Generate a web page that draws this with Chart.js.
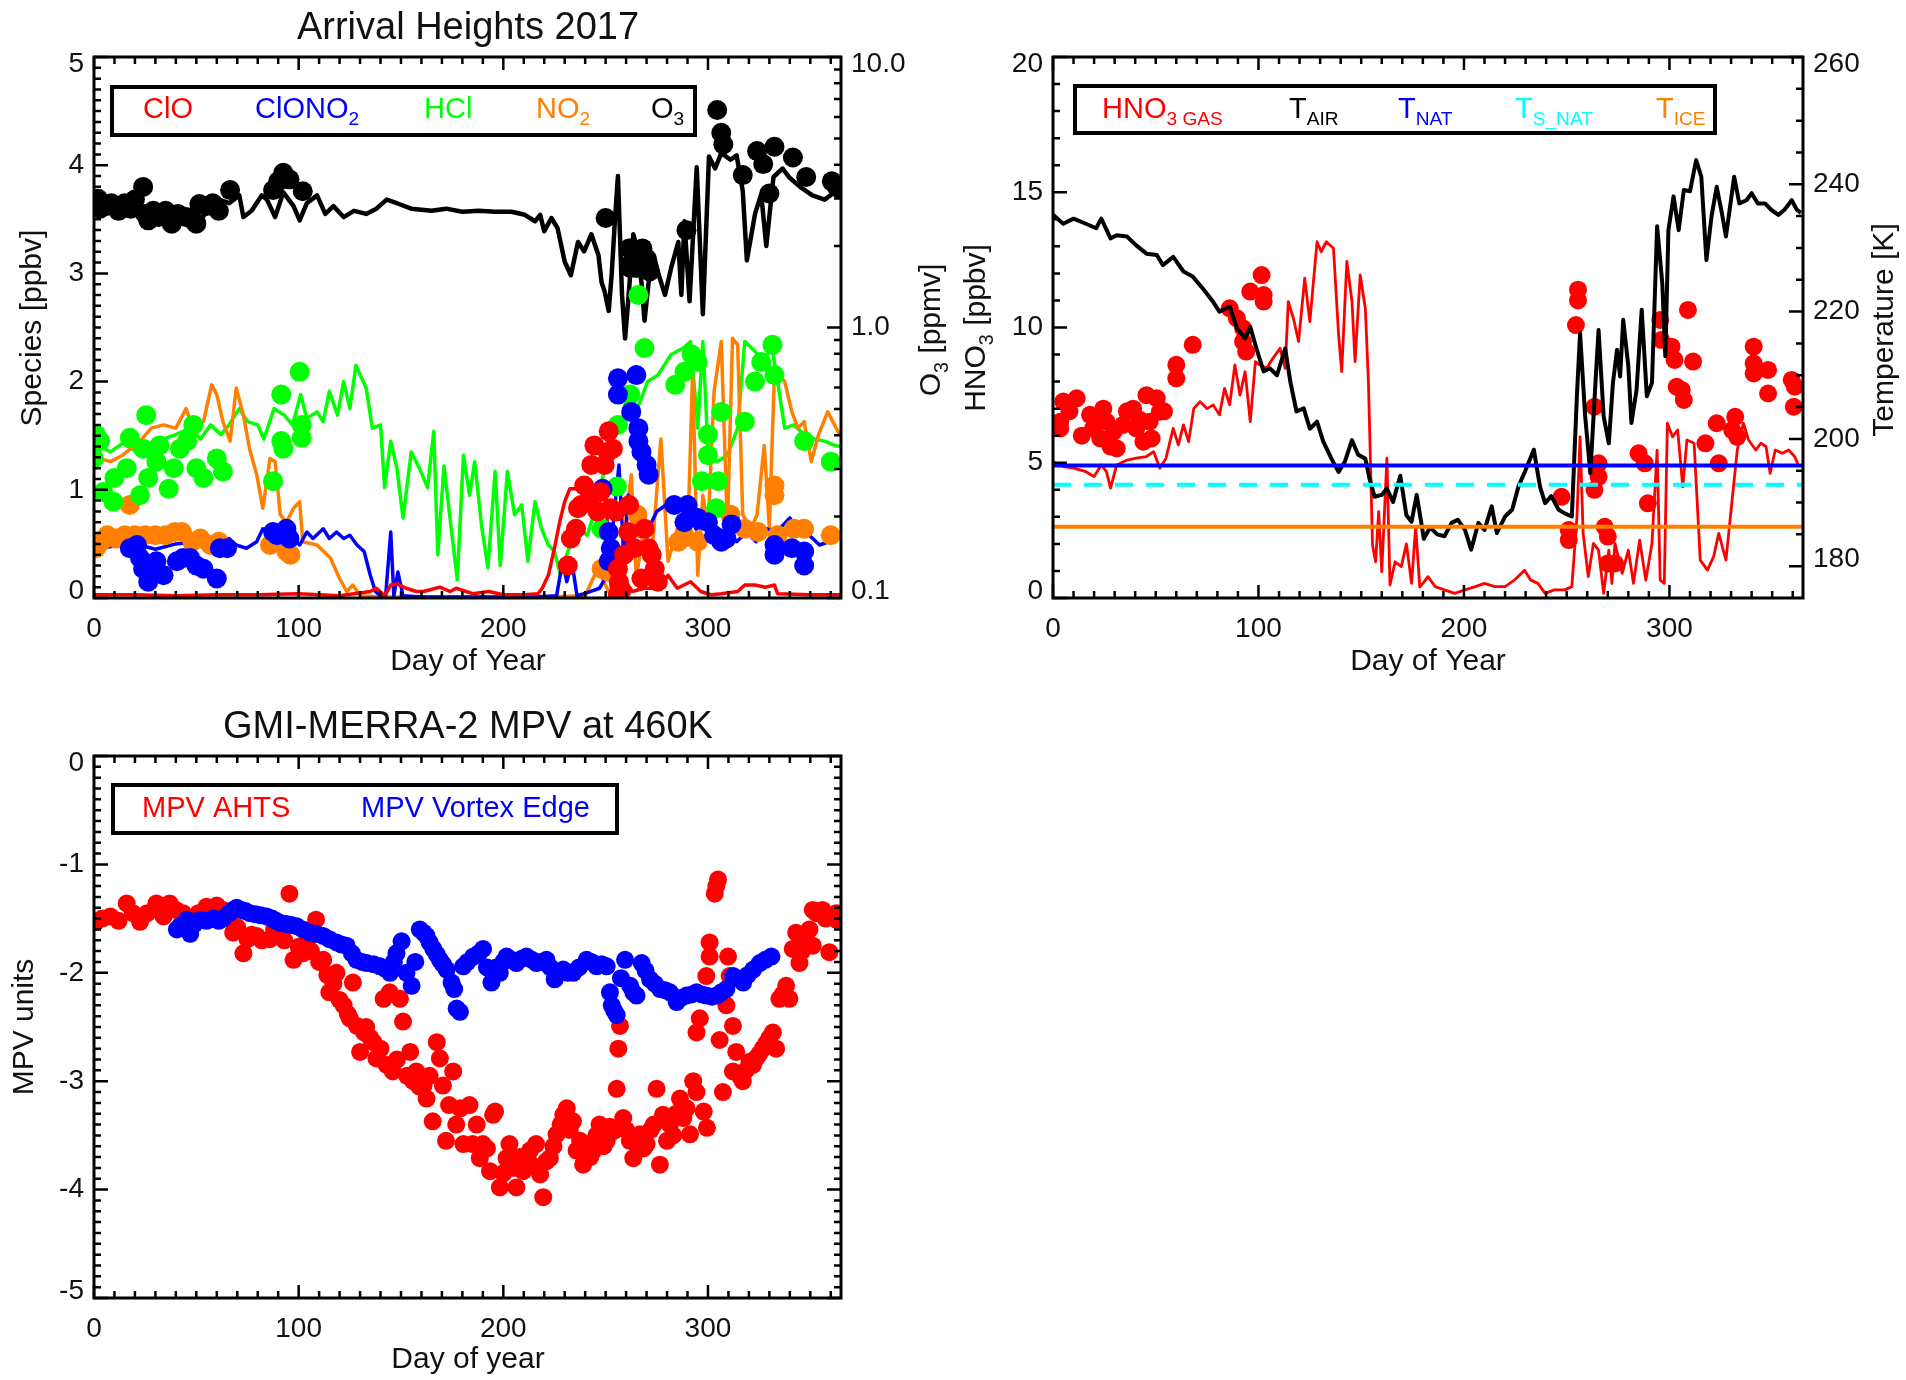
<!DOCTYPE html>
<html>
<head>
<meta charset="utf-8">
<title>Arrival Heights 2017</title>
<script src="https://cdn.jsdelivr.net/npm/chart.js@4.4.1/dist/chart.umd.min.js"></script>
<style>
  body { margin: 0; background: #fff; }
  #page { position: relative; width: 1906px; height: 1380px; }
  canvas { position: absolute; }
</style>
</head>
<body>
<div id="page">
  <canvas id="species" width="950" height="700" style="left:0;top:0"></canvas>
  <canvas id="hno3" width="956" height="700" style="left:950px;top:0"></canvas>
  <canvas id="mpv" width="950" height="690" style="left:0;top:690px"></canvas>
</div>
<script>
// tick labels
const dayTicks = [0, 100, 200, 300];
const speciesTicks = [0, 1, 2, 3, 4, 5];
const o3Ticks = [0.1, 1, 10];
const hno3Ticks = [0, 5, 10, 15, 20];
const tempTicks = [180, 200, 220, 240, 260];
const mpvTicks = [-5, -4, -3, -2, -1, 0];

// [day, ppbv] / [day, ppmv] / [day, K] / [day, MPV units]
const hclLine = [[0,1.45],[2.5,1.41],[8,1.35],[14,1.43],[21,1.35],[27,1.38],[34,1.47],[40,1.51],[47,1.57],[52,1.47],[57,1.60],[62,1.51],[66,1.60],[71,1.75],[75,1.63],[80,1.60],[83,1.47],[88,1.75],[93,1.69],[97,1.60],[101,1.88],[104,1.66],[109,1.72],[112,1.63],[115,1.91],[119,1.69],[122,2.0],[125,1.75],[128,2.15],[133,1.94],[136,1.57],[140,1.60],[142,1.02],[145,1.45],[148,1.20],[151,0.74],[155,1.35],[159,1.20],[163,1.02],[166,1.54],[168,0.40],[171,1.22],[174.5,0.65],[177.5,0.17],[180.5,1.32],[183.5,0.95],[186,1.26],[189.5,0.65],[192.5,0.28],[196,1.17],[198.5,0.30],[202,1.17],[205.5,0.77],[209,0.86],[212,0.34],[215.5,0.89],[218.5,0.65],[222,0.49],[225,0.43],[228,0.21],[231,0.40],[236,0.65],[241,0.58],[246,0.89],[251,1.32],[254,1.60],[257.5,1.60],[260.5,1.88],[265.5,1.75],[270.5,2.0],[275.5,2.06],[282,2.25],[288,2.31],[291.5,2.37],[295,1.57],[297.5,2.37],[300,1.38],[304.5,1.26],[309.5,1.32],[314.5,1.57],[318,2.37],[323,2.28],[327.5,2.18],[331,2.34],[334,2.0],[337.5,1.57],[342,1.60],[347,1.51],[352,1.47],[357,1.45],[362,1.41],[365,1.40]];
const no2Line = [[0,1.38],[2.5,1.29],[8,1.26],[14,1.32],[22.5,1.45],[28,1.57],[34,1.60],[40,1.57],[45,1.75],[48.5,1.57],[53.5,1.63],[57.5,1.97],[60,1.88],[63,1.63],[66.5,1.45],[69.5,1.94],[73,1.69],[76,1.38],[79.5,1.14],[82.5,0.83],[86,1.29],[88.5,1.26],[91,0.77],[94,0.70],[97.5,0.83],[100.5,0.89],[102,0.52],[109,0.49],[115.5,0.37],[120,0.18],[123.5,0.06],[126.5,0.12],[130,0.02],[140,0.01],[160,0.01],[180,0.01],[200,0.01],[220,0.01],[240,0.02],[246,0.27],[252.5,0.02],[257.5,0.34],[262.5,1.14],[265,0.18],[269,0.70],[272,0.27],[277,1.47],[280.5,0.34],[285,0.64],[290,0.49],[292.5,2.09],[295,0.21],[297.5,0.95],[300,0.64],[303,1.91],[306.5,2.37],[309.5,0.64],[312,2.40],[314.5,2.34],[317,0.77],[321,0.64],[324,0.77],[327.5,1.41],[330,0.64],[332.5,2.09],[337.5,2.0],[341,1.72],[344,1.57],[347,1.63],[350.5,1.26],[354,1.51],[358.5,1.72],[363.5,1.54],[365,1.50]];
const clono2Line = [[0,0.45],[10,0.48],[20,0.50],[30,0.45],[40,0.50],[50,0.52],[57,0.55],[62,0.52],[66,0.55],[69.5,0.49],[74.5,0.46],[79.5,0.52],[82.5,0.64],[86,0.61],[89,0.55],[92.5,0.64],[97.5,0.55],[100.5,0.49],[104,0.61],[107,0.55],[112,0.64],[115,0.55],[118.5,0.61],[122,0.55],[125,0.58],[128.5,0.49],[132,0.43],[135,0.21],[137.5,0.06],[140,0.02],[142.5,0.02],[145,0.61],[146.5,0.02],[148.5,0.24],[151,0.02],[160,0.01],[180,0.01],[200,0.01],[215,0.01],[226,0.02],[229,0.34],[231,0.15],[233.5,0.34],[236,0.02],[241,0.05],[247,0.09],[251.5,0.24],[255,0.95],[256.5,1.23],[259,0.34],[261,0.95],[265,0.64],[270,0.61],[275,0.80],[279.5,0.86],[284.5,0.83],[289,0.89],[294,0.64],[299,0.67],[304,0.58],[309,0.64],[314,0.52],[319,0.61],[323.5,0.52],[328.5,0.64],[333.5,0.61],[340,0.74],[344.5,0.61],[349.5,0.58],[354.5,0.49],[359,0.52],[364,0.55]];
const cloLine = [[0,0.03],[20,0.03],[40,0.02],[60,0.03],[80,0.03],[100,0.04],[120,0.02],[135,0.06],[138,0.09],[142,0.02],[145,0.12],[148,0.13],[152.5,0.09],[157.5,0.06],[161,0.06],[169,0.10],[174,0.06],[177,0.09],[185,0.04],[193,0.06],[200,0.03],[210,0.03],[217,0.04],[219,0.09],[222,0.21],[225,0.46],[227.5,0.70],[230,0.89],[232.5,1.01],[236.5,1.01],[240,1.04],[243,1.01],[246.5,0.98],[250,0.95],[253,0.02],[256.5,0.06],[260,0.15],[263,0.06],[269,0.09],[276,0.09],[280.5,0.21],[285,0.09],[291.5,0.15],[296.5,0.06],[301.5,0.03],[306.5,0.04],[314.5,0.06],[318,0.12],[323,0.12],[328,0.10],[332.5,0.12],[334,0.04],[350,0.03],[365,0.03]];
const o3Line = [[0,2.97],[4,2.75],[8,2.81],[14,2.70],[19,2.81],[24,2.63],[30.5,2.56],[37.5,2.63],[46,2.56],[52.5,2.49],[56,2.81],[61,2.97],[66,2.88],[71,3.08],[73,2.56],[77,2.70],[82,3.08],[84.5,2.97],[88.5,2.56],[92.5,3.16],[97.5,2.81],[100.5,2.49],[104,2.88],[109,3.08],[113,2.63],[117,2.81],[122,2.56],[127,2.70],[133,2.63],[138,2.75],[143,2.97],[148,2.88],[155,2.75],[165,2.70],[172,2.75],[180,2.68],[188,2.70],[196,2.68],[204,2.68],[210.5,2.61],[215.5,2.47],[218,2.61],[220,2.27],[223.5,2.54],[226.5,2.33],[230,1.75],[233,1.56],[236.5,2.07],[239.5,1.91],[243,2.21],[246.5,1.85],[248,1.47],[249.5,1.36],[251.5,1.15],[253,1.59],[254.5,2.47],[256,3.63],[258,1.32],[259.5,0.91],[261,1.25],[263.5,2.21],[265,2.01],[267.5,1.47],[269,1.06],[271,1.47],[273.5,1.85],[276,1.56],[279,1.32],[282,1.66],[285.5,2.07],[287,1.32],[288.5,2.47],[291,1.25],[294.5,3.91],[297.5,1.12],[300.5,4.29],[303.5,3.87],[306.5,4.41],[311,4.17],[314,4.33],[317,3.19],[319,1.77],[323,2.63],[326,3.11],[328.5,2.00],[332,3.60],[336.5,3.87],[339.5,3.60],[345,3.31],[351,3.08],[357,2.97],[361,3.13],[365,3.02]];

const o3Dots = [[2,2.99],[3,2.75],[6,2.81],[8.5,2.88],[12,2.70],[15,2.88],[18,2.75],[20,2.97],[24,3.31],[25,2.63],[26.5,2.49],[29,2.70],[31.5,2.56],[35,2.70],[38,2.42],[41,2.63],[45,2.56],[48,2.51],[50,2.42],[51.5,2.86],[55,2.81],[58,2.88],[61,2.70],[66.5,3.22],[87.5,3.22],[90,3.47],[92.5,3.73],[95.5,3.53],[102,3.19],[250,2.54],[261.5,1.96],[262,1.66],[263,1.75],[265,1.66],[268,1.96],[270,1.80],[271.5,1.61],[289.5,2.29],[304.5,6.37],[306.5,5.25],[307.5,4.75],[317,3.66],[324,4.49],[327,4.02],[330,3.13],[332.5,4.66],[341.5,4.25],[348,3.60],[360.5,3.47],[363,3.31]];
const hclDots = [[0,1.29],[1,1.51],[3,1.45],[4.5,0.98],[9.5,0.89],[10,1.11],[16,1.20],[17.5,1.48],[22.5,0.95],[24,1.38],[25.5,1.69],[26.5,1.11],[30.5,1.26],[32,1.41],[36.5,1.01],[39,1.20],[42,1.38],[45.5,1.45],[48.5,1.60],[50,1.20],[53.5,1.11],[60,1.29],[63,1.17],[87.5,1.08],[91.5,1.88],[91.5,1.45],[92.5,1.38],[100.5,2.09],[101.5,1.60],[101.5,1.48],[248,0.64],[255.5,1.03],[256,1.60],[262,1.88],[266,2.80],[269,2.31],[284,1.97],[288.5,2.09],[292,2.25],[295,2.18],[297,1.08],[300,1.51],[300,1.32],[304,0.83],[305,1.08],[306.5,1.72],[318,1.63],[323,2.0],[326,2.18],[331.5,2.34],[332.5,2.06],[347,1.45],[360,1.26]];
const no2Dots = [[1,0.46],[3.5,0.52],[6.5,0.58],[10.5,0.55],[15,0.58],[17.5,0.86],[20,0.58],[25,0.58],[30,0.58],[35,0.58],[39.5,0.61],[43,0.61],[48,0.52],[52,0.55],[57,0.49],[61,0.52],[86,0.49],[94,0.43],[96,0.40],[248,0.27],[251.5,0.24],[265.5,0.77],[267.5,0.64],[285.5,0.52],[288.5,0.58],[295,0.52],[311,0.77],[318,0.64],[324.5,0.61],[332.5,1.04],[332.5,0.95],[334,0.58],[342,0.64],[347,0.64],[360,0.58]];
const clono2Dots = [[17.5,0.46],[21,0.49],[22.5,0.37],[24,0.27],[26.5,0.15],[29,0.24],[30.5,0.34],[34,0.21],[40.5,0.34],[43.5,0.37],[47,0.37],[50,0.30],[53.5,0.27],[60,0.18],[61.5,0.46],[65,0.46],[87.5,0.61],[89.5,0.58],[94,0.64],[95.5,0.55],[248.5,1.01],[251.5,0.61],[252.5,0.46],[251.5,0.34],[256,2.03],[256,1.88],[262.5,1.72],[265,2.06],[266,1.57],[266,1.45],[267.5,1.35],[270,1.23],[271,1.14],[283.5,0.86],[288.5,0.70],[290,0.86],[295,0.74],[300,0.70],[303,0.58],[306.5,0.52],[309,0.55],[311.5,0.68],[332.5,0.49],[332.5,0.40],[341,0.46],[347,0.30],[347,0.43]];
const cloDots = [[231.5,0.30],[233,0.55],[235.5,0.64],[236.5,0.83],[238,0.86],[239.5,1.04],[243,0.95],[243,1.23],[244.5,1.41],[246,0.80],[247.5,0.98],[249.5,1.23],[251,1.35],[251.5,1.54],[252.5,0.83],[253.5,1.38],[255,0.80],[256,0.27],[256.5,0.15],[257.5,0.06],[259,0.40],[261,0.61],[261.5,0.86],[264,0.46],[267.5,0.18],[269,0.64],[271,0.46],[272.5,0.40],[274,0.27],[275.5,0.15],[256,0.03]];

const tAir = [[0,235.2],[5,233.8],[10,234.6],[16,233.8],[21,233.1],[23.5,234.6],[28,231.5],[31,232.0],[36,231.8],[40.5,230.4],[45.5,229.1],[50.5,228.9],[53.5,227.3],[58.5,228.6],[63.5,226.3],[68,225.5],[73,223.6],[78,221.5],[81,220.0],[86,220.8],[89.5,217.4],[93.5,215.8],[96,217.6],[99,214.2],[102.5,210.6],[105.5,211.1],[109,210.0],[113,214.2],[115.5,209.0],[118.5,204.3],[122,204.8],[125,201.6],[128.5,202.7],[131.5,199.6],[135.5,196.9],[139,194.8],[142,196.4],[145.5,199.8],[148.5,197.5],[152,196.9],[154,193.8],[156.5,190.9],[160,191.2],[162.5,192.2],[165.5,190.1],[169,194.2],[172,188.0],[174.5,187.0],[177,191.2],[180.5,184.3],[183.5,186.1],[187,185.0],[190.5,184.7],[194,186.8],[197,187.3],[200.5,185.7],[203.5,182.6],[207,186.8],[210,185.7],[213.5,189.4],[216,185.2],[220,187.8],[223.5,188.9],[226.5,192.5],[230,195.1],[234,198.3],[237,192.5],[239.5,189.9],[242.5,191.0],[246,188.9],[249,188.3],[252.5,187.8],[255,207.0],[256.5,216.6],[259,203.5],[261.5,194.6],[264,208.8],[265.5,217.1],[268,203.5],[270.5,199.3],[272.5,208.8],[274.5,214.0],[276,209.8],[277.5,218.7],[280,211.4],[281.5,202.5],[284,207.7],[286.5,220.3],[289,206.7],[291.5,208.8],[294,233.4],[296.5,224.5],[298,213.0],[299.5,232.8],[302,238.1],[304.5,232.8],[307,239.1],[310,238.9],[313,243.8],[315.5,241.2],[318,228.1],[320.5,235.0],[323,239.6],[325.5,235.5],[327.5,231.8],[331.5,241.2],[334,237.0],[337.5,237.5],[340,238.6],[343,237.0],[346.5,237.0],[349.5,236.0],[353,235.2],[356,236.0],[359.5,237.5],[362,236.0],[364,235.5]];
const hno3Line = [[0,5.04],[5,4.86],[10,4.80],[16,4.67],[20,4.49],[23.5,4.92],[26,4.67],[28,4.06],[31,4.92],[36,5.10],[40.5,5.17],[45.5,5.23],[49,5.41],[52,4.80],[55,5.17],[58.5,6.27],[61,5.66],[63.5,6.40],[66,5.78],[68.5,7.0],[71.5,7.26],[75,7.0],[78,7.14],[81,6.77],[83.5,7.75],[86,7.14],[88.5,8.62],[91,7.50],[93.5,8.37],[96,6.52],[98.5,8.74],[100.5,8.62],[104,8.49],[107,8.86],[110.5,9.23],[113,8.49],[114.5,10.96],[117,10.34],[119.5,9.48],[122.5,11.82],[125,10.22],[128.5,13.17],[130.5,12.80],[133,13.17],[136.5,12.93],[139,9.72],[140.5,8.37],[143,12.44],[145.5,10.96],[147,8.74],[149.5,11.94],[152,10.71],[153.5,8.0],[154.5,5.04],[155.5,1.96],[157,1.34],[158.5,3.19],[160,0.97],[162.5,5.17],[164,0.48],[166.5,1.34],[169.5,1.16],[172,2.0],[174.5,0.54],[176.5,2.63],[178.5,0.40],[180,0.54],[182.5,0.79],[186,0.42],[190.5,0.30],[195.5,0.17],[200.5,0.30],[205.5,0.42],[210,0.54],[215,0.42],[220,0.42],[224.5,0.66],[229.5,1.03],[232.5,0.66],[236,0.54],[239.5,0.17],[244,0.30],[249,0.30],[252.5,0.42],[255,3.0],[256.5,5.96],[258,2.39],[260.5,0.79],[263,2.02],[265.5,1.77],[268,0.17],[270.5,1.77],[272,0.54],[273.5,2.02],[277,0.91],[280,1.77],[282.5,0.54],[285.5,2.14],[288.5,0.66],[291.5,2.02],[294,5.47],[295.5,0.66],[297.5,0.54],[299,6.46],[301.5,5.96],[304,6.21],[306.5,4.11],[308.5,5.84],[312,5.72],[315,1.40],[318.5,1.03],[321.5,1.53],[324,2.39],[327.5,1.40],[330.5,3.62],[333,5.47],[336,6.46],[338.5,5.84],[342,5.47],[344.5,5.72],[347,5.60],[349,4.61],[351.5,5.47],[355,5.35],[358,5.47],[361,5.22],[363,4.85]];
const hno3Dots = [[3.5,6.52],[3.5,6.27],[5,7.26],[8,6.9],[11.5,7.38],[14,6.0],[18,6.77],[19.5,6.27],[21,6.6],[23,5.90],[24.5,7.0],[26,6.52],[28,5.6],[29.5,6.15],[31,5.53],[34,6.40],[36,6.9],[39,7.0],[40.5,6.27],[42,6.6],[44,5.78],[45.5,7.50],[47,6.52],[48,5.9],[50.5,7.38],[52,6.89],[54,6.9],[60,8.62],[60,8.12],[68,9.36],[86,10.71],[89.5,10.34],[92.5,9.97],[92.5,9.48],[94,9.11],[96,11.33],[101.5,11.94],[102.5,11.20],[102.5,10.96],[247.5,3.74],[251,2.51],[251,2.14],[254.5,10.09],[255.5,11.0],[255.5,11.4],[263.5,4.0],[263.5,7.07],[265.5,4.98],[265.5,4.48],[268.5,2.63],[270,2.27],[270,1.28],[273.5,1.28],[285,5.35],[288,4.98],[289.5,3.50],[295.5,10.28],[296,9.54],[301,9.29],[302.5,8.80],[303.5,7.81],[306,7.69],[307,7.32],[309,10.65],[311.5,8.74],[317.5,5.72],[323,6.46],[324,4.98],[330.5,6.21],[332,6.70],[333,5.96],[341,9.29],[341,8.67],[341,8.30],[348,8.43],[348,7.56],[359.5,8.06],[360.5,7.07],[361,7.81]];
// T_NAT, T_S_NAT, T_ICE [K]
const thresholdTemps = [195.8, 192.8, 186.2];

const mpvAhts = [[1,-1.53],[4,-1.50],[8,-1.48],[12,-1.52],[16,-1.36],[19,-1.45],[22.5,-1.53],[26,-1.45],[30.5,-1.36],[34,-1.48],[37,-1.36],[40,-1.42],[43.5,-1.45],[47,-1.50],[51,-1.45],[55,-1.39],[58,-1.40],[60,-1.38],[63,-1.42],[66,-1.50],[68,-1.63],[70,-1.58],[73,-1.82],[75,-1.69],[77,-1.65],[79.5,-1.66],[82,-1.70],[86,-1.69],[88,-1.60],[91,-1.62],[93,-1.70],[95.5,-1.27],[97.5,-1.88],[100,-1.76],[102,-1.82],[104,-1.72],[106,-1.80],[108.5,-1.51],[110,-1.90],[112,-1.88],[114,-2.02],[115,-2.18],[117,-2.10],[118.5,-2.0],[120,-2.25],[122,-2.30],[124,-2.38],[125,-2.42],[126.5,-2.09],[128.5,-2.49],[130,-2.73],[132,-2.55],[133,-2.50],[135,-2.60],[136.5,-2.64],[138,-2.79],[140,-2.70],[141.5,-2.24],[143,-2.85],[144.5,-2.18],[146,-2.91],[148,-2.80],[149.5,-2.24],[151,-2.45],[153,-2.95],[154.5,-2.73],[156,-3.00],[157.5,-2.91],[159,-3.05],[161,-3.04],[162.5,-3.16],[164,-2.95],[165.5,-3.37],[167.5,-2.64],[169,-2.79],[170.5,-3.04],[172,-3.55],[173.5,-3.22],[175.5,-2.91],[177,-3.40],[179,-3.25],[180.5,-3.58],[183.5,-3.22],[185,-3.58],[187,-3.40],[188.5,-3.71],[190,-3.58],[192,-3.62],[193.5,-3.83],[195,-3.31],[196,-3.28],[198.3,-3.98],[200,-3.85],[201.6,-3.71],[203,-3.58],[205,-3.80],[206.4,-3.98],[208,-3.70],[209.7,-3.83],[211,-3.75],[213,-3.64],[214.5,-3.78],[216,-3.58],[218,-3.86],[219.5,-4.07],[221,-3.74],[222.7,-3.71],[224.5,-3.60],[226,-3.49],[228,-3.40],[229.3,-3.31],[231,-3.25],[232.5,-3.45],[234,-3.37],[235.8,-3.64],[237.5,-3.55],[239,-3.77],[240.7,-3.58],[242.5,-3.70],[244,-3.64],[245.5,-3.50],[247,-3.40],[249,-3.60],[250.5,-3.55],[252,-3.42],[253.8,-3.46],[255.4,-3.07],[256.2,-2.70],[257,-2.49],[258.6,-3.34],[260,-3.45],[261.8,-3.55],[263.5,-3.71],[265,-3.58],[266.7,-3.49],[268.5,-3.62],[270,-3.58],[272,-3.45],[273.5,-3.40],[274.9,-3.07],[276.5,-3.77],[278,-3.31],[280,-3.55],[281.4,-3.40],[283,-3.50],[284.5,-3.30],[286.3,-3.16],[288,-3.34],[289.5,-3.25],[291.2,-3.49],[292.8,-3.0],[294.4,-3.1],[294.4,-2.55],[296,-2.42],[297.9,-3.28],[299.5,-3.43],[299.2,-2.03],[300.8,-1.85],[300.8,-1.72],[303.3,-1.27],[304.1,-1.20],[304.9,-1.14],[305.7,-2.62],[307.3,-3.10],[309,-2.30],[309.8,-1.85],[310.6,-2.03],[312.2,-2.49],[312.2,-2.91],[313.8,-2.73],[315.5,-2.95],[317,-3.0],[318.5,-2.90],[320.3,-2.82],[322,-2.85],[323.5,-2.79],[325,-2.75],[326.8,-2.70],[328.5,-2.65],[330,-2.60],[331.7,-2.55],[333.3,-2.70],[334.9,-2.24],[336.5,-2.20],[338.2,-2.12],[339.8,-2.24],[341.4,-1.78],[343.1,-1.63],[344.7,-1.91],[346,-1.80],[347.5,-1.70],[349.6,-1.60],[351.2,-1.42],[351.2,-1.75],[353,-1.45],[354.5,-1.43],[356,-1.42],[357.5,-1.50],[359.3,-1.81],[361,-1.48],[362.6,-1.45],[362.6,-1.51],[364.5,-1.50]];
const mpvEdge = [[40.5,-1.60],[42,-1.57],[44,-1.55],[45.5,-1.51],[47,-1.64],[49,-1.55],[52,-1.51],[55,-1.52],[58.3,-1.50],[61,-1.52],[63,-1.50],[66,-1.45],[68,-1.42],[69.7,-1.40],[72,-1.42],[74,-1.43],[76.2,-1.45],[79,-1.46],[81.5,-1.47],[84.3,-1.48],[87,-1.50],[89,-1.52],[91,-1.54],[94,-1.55],[96.5,-1.56],[99,-1.57],[102,-1.60],[105.5,-1.63],[108.5,-1.64],[112,-1.66],[115,-1.69],[118.5,-1.72],[121,-1.74],[123.4,-1.75],[126,-1.82],[128.3,-1.88],[131,-1.90],[133.2,-1.91],[136.5,-1.92],[139.7,-1.94],[142,-1.96],[144.6,-2.0],[146.5,-1.90],[147.8,-1.82],[150.3,-1.71],[152.7,-2.0],[155.2,-2.12],[157,-1.90],[159.2,-1.60],[161,-1.63],[162.5,-1.66],[164,-1.72],[165.8,-1.78],[167.5,-1.83],[169,-1.88],[170.5,-1.92],[172.3,-1.97],[174.7,-2.09],[176,-2.15],[177.2,-2.33],[178.8,-2.36],[180.4,-1.94],[182.5,-1.90],[185.3,-1.85],[188,-1.82],[190.1,-1.78],[192,-1.95],[194.2,-2.09],[196.5,-1.95],[198.3,-2.0],[200,-1.90],[201.6,-1.85],[204,-1.88],[206.4,-1.91],[209,-1.87],[211.3,-1.85],[214,-1.88],[216.2,-1.91],[218.5,-1.90],[221.1,-1.88],[223,-1.95],[225.1,-2.06],[227,-2.0],[229.3,-1.97],[231.5,-2.0],[234.2,-2.0],[237,-1.95],[240.7,-1.88],[243,-1.90],[245.6,-1.94],[248,-1.92],[250.5,-1.94],[252.1,-2.18],[253,-2.30],[254.2,-2.35],[255.4,-2.39],[257.5,-2.05],[259.5,-1.88],[262,-2.12],[263.5,-2.18],[265.1,-2.21],[267.6,-1.91],[269.5,-1.98],[271.7,-2.06],[274,-2.10],[276.6,-2.15],[279,-2.16],[281.4,-2.18],[284.7,-2.27],[287,-2.23],[289.5,-2.21],[292,-2.20],[294.4,-2.18],[297,-2.20],[299.3,-2.21],[302,-2.22],[304.2,-2.21],[306.5,-2.18],[309,-2.15],[312.3,-2.03],[314.5,-2.05],[317.2,-2.09],[319.5,-2.02],[322.1,-1.97],[325.3,-1.91],[328,-1.88],[331,-1.85]];

const RED = '#ff0000', BLUE = '#0000ff', GREEN = '#00ff00', ORANGE = '#ff8000', CYAN = '#00ffff', BLACK = '#000000';
const FAMILY = "'Liberation Sans', Arial, Helvetica, sans-serif";
const fontStr = s => s + 'px ' + FAMILY;
const pts = arr => arr.map(([x, y]) => ({ x, y }));

function line(data, color, width, axis, dash) {
  return { data: pts(data), yAxisID: axis, showLine: true, borderColor: color, borderWidth: width,
    borderDash: dash || [], pointRadius: 0, borderJoinStyle: 'round', tension: 0 };
}
function dots(data, color, axis, r) {
  return { data: pts(data), yAxisID: axis, showLine: false, pointRadius: r,
    pointBackgroundColor: color, pointBorderColor: color, pointBorderWidth: 0 };
}

function ticksEvery(min, max, step, isMajor) {
  const out = [];
  const n = Math.round((max - min) / step);
  for (let i = 0; i <= n; i++) {
    const v = Math.round((min + i * step) * 1000) / 1000;
    out.push([v, isMajor(v)]);
  }
  return out;
}
const isInt = v => Math.abs(v - Math.round(v)) < 1e-6;
const logTicks = [];
[0.1, 1].forEach(d => { for (let m = 1; m <= 9; m++) logTicks.push([Math.round(m * d * 100) / 100, m === 1]); });
logTicks.push([10, true]);

function yAxis(min, max, ticks, position, fmt, type) {
  return {
    type: type || 'linear', position, min, max,
    grid: { display: false, drawTicks: false, tickLength: 0 },
    border: { display: false },
    afterBuildTicks: s => { s.ticks = ticks.map(v => ({ value: v })); },
    afterFit: s => { s.width = position === 'left' ? 70 : 90; },
    ticks: {
      autoSkip: false, padding: 10, color: '#111',
      font: { family: FAMILY, size: 28, lineHeight: 0.5 },
      callback: (v, i, t) => {
        const s = fmt(v);
        if (i === t.length - 1) return ['', s];
        if (i === 0) return [s, ''];
        return s;
      }
    }
  };
}
function xAxis() {
  return {
    type: 'linear', position: 'bottom', min: 0, max: 365,
    grid: { display: false, drawTicks: false, tickLength: 0 },
    border: { display: false },
    afterBuildTicks: s => { s.ticks = dayTicks.map(v => ({ value: v })); },
    afterFit: s => { s.height = 60; },
    ticks: { autoSkip: false, maxRotation: 0, padding: 14, color: '#111',
      font: { family: FAMILY, size: 28, lineHeight: 1.2 }, callback: v => String(v) }
  };
}

function drawRich(ctx, parts, x, y, size, color, center) {
  ctx.textBaseline = 'alphabetic';
  ctx.textAlign = 'left';
  ctx.fillStyle = color;
  let w = 0;
  parts.forEach(([t, sub]) => { ctx.font = fontStr(sub ? size * 0.66 : size); w += ctx.measureText(t).width; });
  let cx = center ? x - w / 2 : x;
  parts.forEach(([t, sub]) => {
    ctx.font = fontStr(sub ? size * 0.66 : size);
    ctx.fillText(t, cx, sub ? y + size * 0.25 : y);
    cx += ctx.measureText(t).width;
  });
}
function drawRotated(ctx, parts, x, y, size) {
  ctx.save();
  ctx.translate(x, y);
  ctx.rotate(-Math.PI / 2);
  drawRich(ctx, parts, 0, 0, size, '#111', true);
  ctx.restore();
}

function idlFrame(spec) {
  return {
    id: 'idlFrame',
    afterDraw(chart) {
      const { ctx, chartArea: a } = chart;
      const xs = chart.scales.x;
      const yl = chart.scales[spec.left];
      const yr = chart.scales[spec.right];
      ctx.save();
      ctx.strokeStyle = BLACK;
      ctx.lineWidth = 2.5;
      ctx.beginPath();
      spec.xMinor.forEach(([v, major]) => {
        const px = xs.getPixelForValue(v), len = major ? 13 : 7;
        ctx.moveTo(px, a.bottom); ctx.lineTo(px, a.bottom - len);
        ctx.moveTo(px, a.top); ctx.lineTo(px, a.top + len);
      });
      spec.leftMinor.forEach(([v, major]) => {
        const py = yl.getPixelForValue(v), len = major ? 14 : 7;
        ctx.moveTo(a.left, py); ctx.lineTo(a.left + len, py);
      });
      spec.rightMinor.forEach(([v, major]) => {
        const py = yr.getPixelForValue(v), len = major ? 14 : 7;
        ctx.moveTo(a.right, py); ctx.lineTo(a.right - len, py);
      });
      ctx.stroke();
      ctx.lineWidth = 3;
      ctx.strokeRect(a.left, a.top, a.right - a.left, a.bottom - a.top);

      const lg = spec.legend;
      ctx.fillStyle = '#fff';
      ctx.fillRect(lg.box[0], lg.box[1], lg.box[2], lg.box[3]);
      ctx.lineWidth = 4;
      ctx.strokeRect(lg.box[0], lg.box[1], lg.box[2], lg.box[3]);
      lg.items.forEach(it => drawRich(ctx, it.parts, it.x, lg.y, 29, it.color, false));

      if (spec.title) drawRich(ctx, [[spec.title.text]], spec.title.x, spec.title.y, 38, '#111', true);
      drawRich(ctx, [[spec.xTitle.text]], spec.xTitle.x, spec.xTitle.y, 30, '#111', true);
      spec.yTitles.forEach(t => drawRotated(ctx, t.parts, t.x, t.y, 30));
      ctx.restore();
    }
  };
}

function baseOptions(padding, scales) {
  return {
    responsive: false, animation: false, devicePixelRatio: 1, events: [],
    layout: { padding },
    plugins: { legend: { display: false }, tooltip: { enabled: false } },
    scales
  };
}
const xMinor = ticksEvery(0, 360, 10, v => v % 100 === 0);

new Chart(document.getElementById('species'), {
  type: 'scatter',
  data: { datasets: [
    dots(cloDots, RED, 'y', 10),
    dots(clono2Dots, BLUE, 'y', 10),
    dots(hclDots, GREEN, 'y', 10),
    dots(no2Dots, ORANGE, 'y', 10),
    dots(o3Dots, BLACK, 'o3', 10),
    line(cloLine, RED, 3.5, 'y'),
    line(clono2Line, BLUE, 3.5, 'y'),
    line(no2Line, ORANGE, 3.5, 'y'),
    line(hclLine, GREEN, 3.5, 'y'),
    line(o3Line, BLACK, 4.5, 'o3')
  ] },
  options: baseOptions({ left: 24, right: 19, top: 57, bottom: 42 }, {
    x: xAxis(),
    y: yAxis(0, 5, speciesTicks, 'left', v => String(v)),
    o3: yAxis(0.1, 10, o3Ticks, 'right', v => v.toFixed(1), 'logarithmic')
  }),
  plugins: [idlFrame({
    left: 'y', right: 'o3', xMinor,
    leftMinor: ticksEvery(0, 5, 0.1, isInt),
    rightMinor: logTicks,
    title: { text: 'Arrival Heights 2017', x: 468, y: 39 },
    xTitle: { text: 'Day of Year', x: 468, y: 670 },
    yTitles: [
      { parts: [['Species [ppbv]']], x: 41, y: 328 },
      { parts: [['O'], ['3', true], [' [ppmv]']], x: 940, y: 330 }
    ],
    legend: { box: [112, 87, 583, 48], y: 118, items: [
      { x: 143, color: RED, parts: [['ClO']] },
      { x: 255, color: BLUE, parts: [['ClONO'], ['2', true]] },
      { x: 424, color: GREEN, parts: [['HCl']] },
      { x: 536, color: ORANGE, parts: [['NO'], ['2', true]] },
      { x: 651, color: BLACK, parts: [['O'], ['3', true]] }
    ] }
  })]
});

new Chart(document.getElementById('hno3'), {
  type: 'scatter',
  data: { datasets: [
    line([[0, thresholdTemps[0]], [365, thresholdTemps[0]]], BLUE, 4, 't'),
    line([[0, thresholdTemps[1]], [365, thresholdTemps[1]]], CYAN, 4, 't', [18, 13]),
    line([[0, thresholdTemps[2]], [365, thresholdTemps[2]]], ORANGE, 4, 't'),
    line(tAir, BLACK, 4, 't'),
    dots(hno3Dots, RED, 'y', 9),
    line(hno3Line, RED, 2.8, 'y')
  ] },
  options: baseOptions({ left: 33, right: 13, top: 57, bottom: 42 }, {
    x: xAxis(),
    y: yAxis(0, 20, hno3Ticks, 'left', v => String(v)),
    t: yAxis(175, 260, tempTicks, 'right', v => String(v))
  }),
  plugins: [idlFrame({
    left: 'y', right: 't', xMinor,
    leftMinor: ticksEvery(0, 20, 1, v => v % 5 === 0),
    rightMinor: ticksEvery(180, 260, 5, v => v % 20 === 0),
    xTitle: { text: 'Day of Year', x: 478, y: 670 },
    yTitles: [
      { parts: [['HNO'], ['3', true], [' [ppbv]']], x: 35, y: 328 },
      { parts: [['Temperature [K]']], x: 943, y: 330 }
    ],
    legend: { box: [125, 86, 640, 47], y: 118, items: [
      { x: 152, color: RED, parts: [['HNO'], ['3 GAS', true]] },
      { x: 339, color: BLACK, parts: [['T'], ['AIR', true]] },
      { x: 448, color: BLUE, parts: [['T'], ['NAT', true]] },
      { x: 565, color: CYAN, parts: [['T'], ['S_NAT', true]] },
      { x: 706, color: ORANGE, parts: [['T'], ['ICE', true]] }
    ] }
  })]
});

new Chart(document.getElementById('mpv'), {
  type: 'scatter',
  data: { datasets: [
    dots(mpvEdge, BLUE, 'y', 9),
    dots(mpvAhts, RED, 'y', 9)
  ] },
  options: baseOptions({ left: 24, right: 109, top: 66, bottom: 22 }, {
    x: xAxis(),
    y: yAxis(-5, 0, mpvTicks, 'left', v => String(v))
  }),
  plugins: [idlFrame({
    left: 'y', right: 'y', xMinor,
    leftMinor: ticksEvery(-5, 0, 0.1, isInt),
    rightMinor: ticksEvery(-5, 0, 0.1, isInt),
    title: { text: 'GMI-MERRA-2 MPV at 460K', x: 468, y: 48 },
    xTitle: { text: 'Day of year', x: 468, y: 678 },
    yTitles: [{ parts: [['MPV units']], x: 33, y: 337 }],
    legend: { box: [113, 95, 504, 48], y: 127, items: [
      { x: 142, color: RED, parts: [['MPV AHTS']] },
      { x: 361, color: BLUE, parts: [['MPV Vortex Edge']] }
    ] }
  })]
});
</script>
</body>
</html>
